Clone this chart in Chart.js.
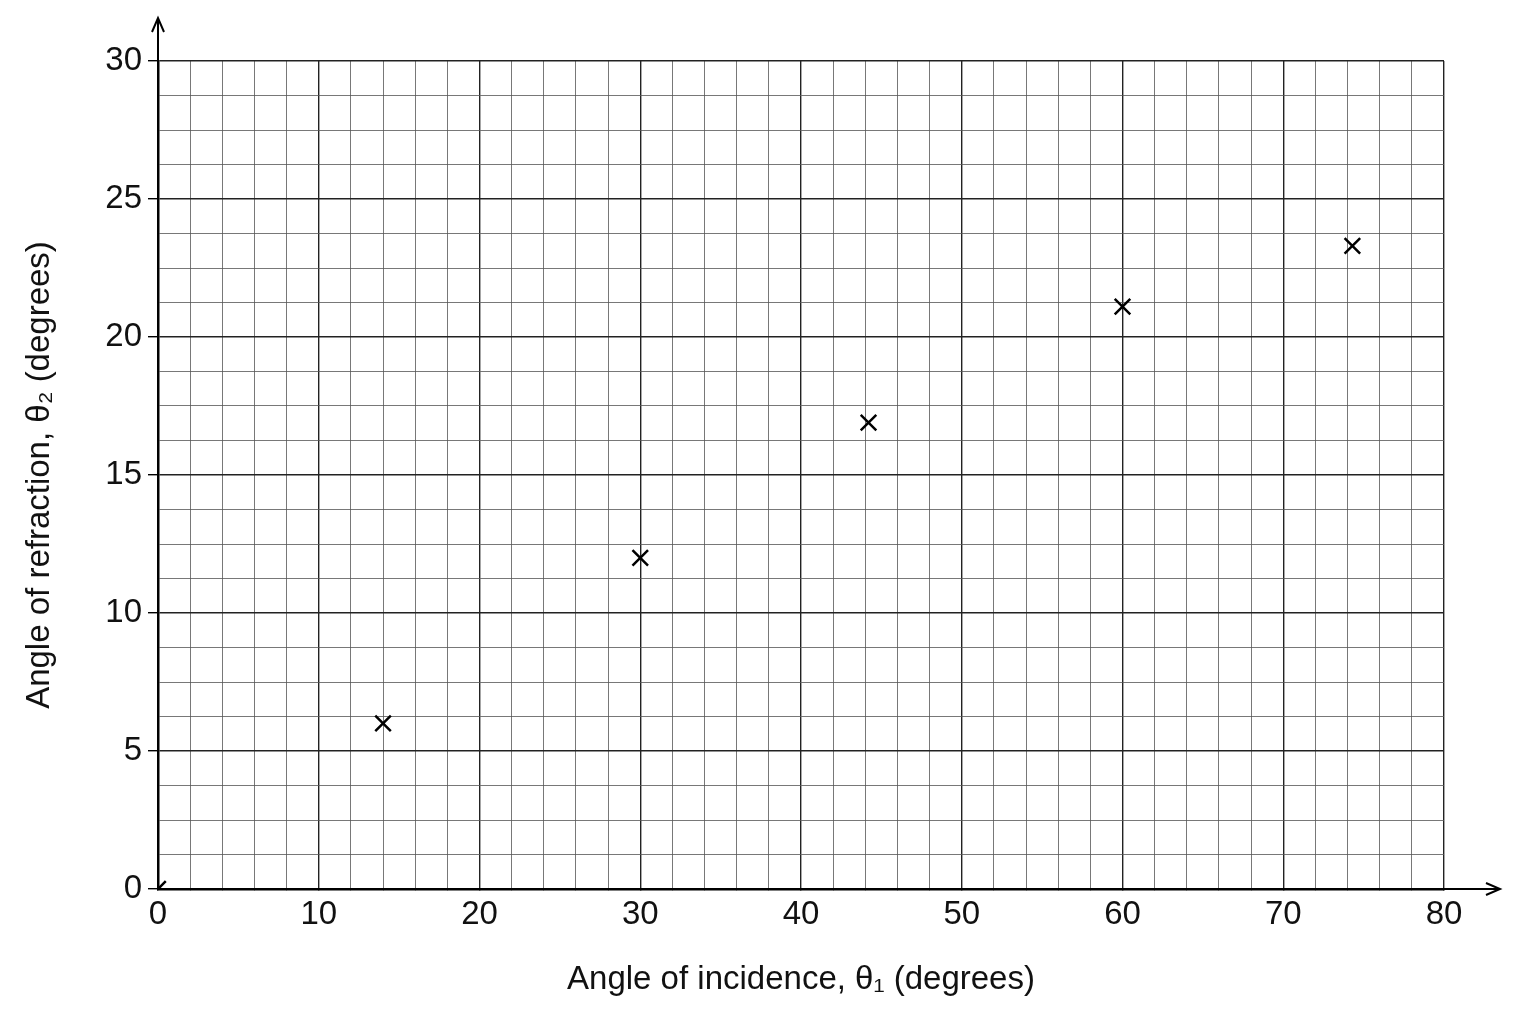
<!DOCTYPE html>
<html>
<head>
<meta charset="utf-8">
<script src="https://cdn.jsdelivr.net/npm/chart.js@4"></script>
<style>
  html, body { margin: 0; padding: 0; background: #fff; }
  #wrap { width: 1536px; height: 1024px; }
</style>
</head>
<body>
<div id="wrap"><canvas id="chart" width="1536" height="1024"></canvas></div>
<script>
// Data
const incidence = [0, 14, 30, 44.2, 60, 74.3];
const refraction = [0, 6, 12, 16.9, 21.1, 23.3];
const xTicks = [0, 10, 20, 30, 40, 50, 60, 70, 80];
const yTicks = [0, 5, 10, 15, 20, 25, 30];

const points = incidence.map((x, i) => ({ x: x, y: refraction[i] }));
const fontFamily = '"Liberation Sans", Arial, sans-serif';

// Arrowheads on the axes
const axisArrows = {
    id: 'axisArrows',
    afterDraw(chart) {
        const ctx = chart.ctx;
        const a = chart.chartArea;
        ctx.save();
        ctx.strokeStyle = '#000';
        ctx.lineWidth = 2;
        ctx.beginPath();
        ctx.moveTo(a.left, a.top);
        ctx.lineTo(a.left, 18);
        ctx.moveTo(a.left - 6, 32);
        ctx.lineTo(a.left, 18);
        ctx.lineTo(a.left + 6, 32);
        ctx.moveTo(a.right, a.bottom);
        ctx.lineTo(1500, a.bottom);
        ctx.moveTo(1486, a.bottom - 6);
        ctx.lineTo(1500, a.bottom);
        ctx.lineTo(1486, a.bottom + 6);
        ctx.stroke();
        ctx.restore();
    }
};

const isMajor = (v, step) => Math.abs(v / step - Math.round(v / step)) < 1e-6;

new Chart(document.getElementById('chart'), {
    type: 'scatter',
    data: {
        datasets: [{
            data: points,
            pointStyle: 'crossRot',
            pointRadius: 11,
            pointBorderWidth: 2.5,
            borderColor: '#000',
            backgroundColor: '#000'
        }]
    },
    options: {
        responsive: false,
        animation: false,
        layout: { padding: { top: 61, right: 92, bottom: 20, left: 0 } },
        plugins: { legend: { display: false }, tooltip: { enabled: false } },
        scales: {
            x: {
                type: 'linear', min: 0, max: 80,
                afterFit(s) { s.height = 115; },
                ticks: {
                    stepSize: 2, autoSkip: false, maxRotation: 0, color: '#111',
                    font: { family: fontFamily, size: 33 }, padding: 6,
                    callback: v => xTicks.includes(v) ? String(v) : ''
                },
                grid: {
                    color: c => isMajor(c.tick.value, 10) ? '#222' : '#555',
                    lineWidth: c => isMajor(c.tick.value, 10) ? 1.4 : 0.8,
                    tickLength: 0
                },
                border: { color: '#000', width: 2.5 },
                title: {
                    display: true, text: 'Angle of incidence, θ₁ (degrees)', color: '#111',
                    font: { family: fontFamily, size: 33 }, padding: { top: 22 }
                }
            },
            y: {
                type: 'linear', min: 0, max: 30,
                afterFit(s) { s.width = 158; },
                ticks: {
                    stepSize: 1.25, autoSkip: false, color: '#111',
                    font: { family: fontFamily, size: 33 }, padding: 6,
                    callback: v => yTicks.includes(v) ? String(v) : ''
                },
                grid: {
                    color: c => isMajor(c.tick.value, 5) ? '#222' : '#555',
                    lineWidth: c => isMajor(c.tick.value, 5) ? 1.4 : 0.8,
                    tickColor: c => isMajor(c.tick.value, 5) ? '#000' : 'rgba(0,0,0,0)',
                    tickLength: 10
                },
                border: { color: '#000', width: 2.5 },
                title: {
                    display: true, text: 'Angle of refraction, θ₂ (degrees)', color: '#111',
                    font: { family: fontFamily, size: 33 }, padding: { top: 20, bottom: 30 }
                }
            }
        }
    },
    plugins: [axisArrows]
});
</script>
</body>
</html>
